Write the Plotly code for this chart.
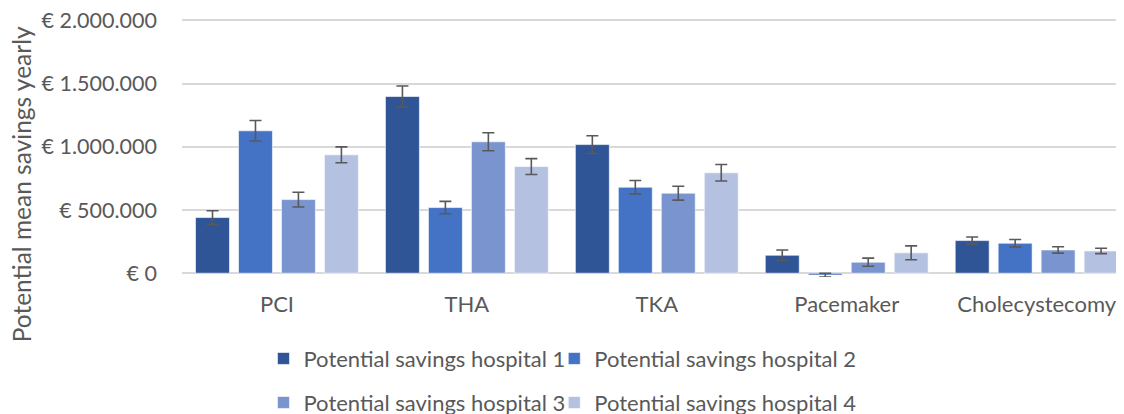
import plotly.graph_objects as go

categories = ["PCI", "THA", "TKA", "Pacemaker", "Cholecystecomy"]
series_names = ["Potential savings hospital 1", "Potential savings hospital 2",
                "Potential savings hospital 3", "Potential savings hospital 4"]
hospital1 = [440000, 1397000, 1017000, 142000, 258000]
hospital2 = [1126000, 519000, 680000, -15000, 237000]
hospital3 = [582000, 1039000, 633000, 87000, 184000]
hospital4 = [936000, 843000, 794000, 161000, 176000]
err1 = [54000, 83000, 70000, 41000, 28000]
err2 = [81000, 49000, 53000, 15000, 29000]
err3 = [58000, 71000, 55000, 32000, 25000]
err4 = [63000, 63000, 65000, 55000, 21000]
tick_vals = [0, 500000, 1000000, 1500000, 2000000]
tick_text = ["€ 0", "€ 500.000", "€ 1.000.000", "€ 1.500.000", "€ 2.000.000"]
y_title = "Potential mean savings yearly"

colors = ["#2F5597", "#4472C4", "#7A94D0", "#B4C1E1"]
values = [hospital1, hospital2, hospital3, hospital4]
errors = [err1, err2, err3, err4]
legend_ids = ["legend", "legend2", "legend3", "legend4"]
legend_x = [0.0865, 0.3952, 0.0865, 0.3952]
legend_y = [-0.3165, -0.3165, -0.487, -0.487]

FONT = "Lato"
GREY = "#595959"

fig = go.Figure()
for name, v, e, c, lg in zip(series_names, values, errors, colors, legend_ids):
    fig.add_trace(go.Bar(
        x=categories, y=v, name=name,
        marker=dict(color=c, line=dict(color="rgba(255,255,255,0.6)", width=1)),
        error_y=dict(type="data", array=e, visible=True, color=GREY,
                     thickness=1.6, width=6),
        legend=lg,
    ))

legend_layout = {}
for lg, lx, ly in zip(legend_ids, legend_x, legend_y):
    legend_layout[lg] = dict(orientation="h", xanchor="left", x=lx,
                             yanchor="middle", y=ly,
                             font=dict(size=22, color=GREY, family=FONT),
                             bgcolor="rgba(0,0,0,0)")

fig.update_layout(
    width=1116, height=406,
    margin=dict(l=173.5, r=0, t=10.7, b=137.2, autoexpand=False),
    paper_bgcolor="white", plot_bgcolor="white",
    barmode="group", bargap=0.095, bargroupgap=0.21,
    font=dict(family=FONT, size=21, color=GREY),
    xaxis=dict(range=[-0.5, 4.46], showgrid=False, zeroline=False,
               showline=False, ticks="", ticklabelstandoff=12, automargin=False,
               tickfont=dict(size=22, color=GREY, family=FONT)),
    yaxis=dict(range=[-30000, 2010000], tickvals=tick_vals, ticktext=tick_text,
               showgrid=True, gridcolor="#D9D9D9", gridwidth=1.5,
               zeroline=True, zerolinecolor="#D9D9D9", zerolinewidth=1.5,
               showline=False, ticks="", ticklabelstandoff=24, automargin=False,
               ticklabeloverflow="allow",
               tickfont=dict(size=21.5, color=GREY, family=FONT)),
    showlegend=True,
    annotations=[dict(text=y_title, textangle=-90, xref="paper", yref="paper",
                      x=-0.1702, y=0.358, xanchor="center", yanchor="middle",
                      showarrow=False, font=dict(size=24.5, color=GREY, family=FONT))],
    **legend_layout,
)

fig.write_html("out.html")
